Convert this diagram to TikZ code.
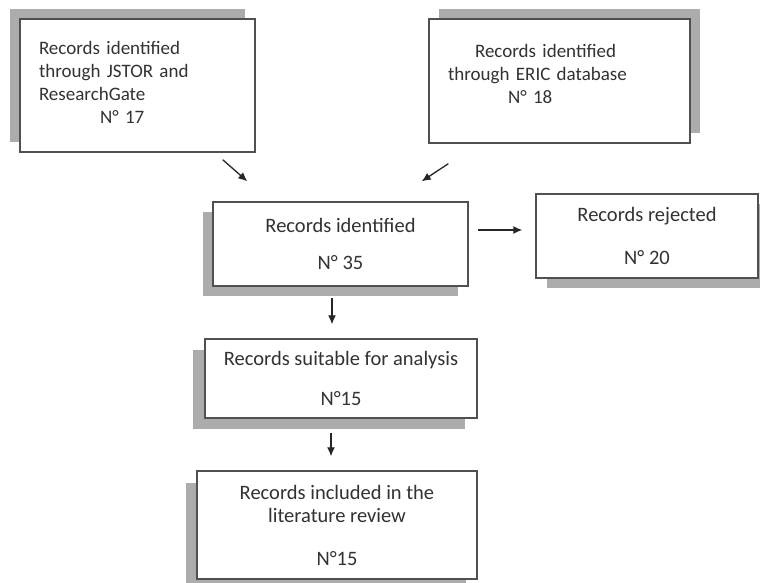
\documentclass[tikz,border=0pt]{standalone}
\usepackage{fontspec}
\setmainfont{Carlito}
\usepackage{tikz}
\usetikzlibrary{arrows.meta, shadows}
\usepackage{xcolor}
\definecolor{cBorder}{RGB}{80,80,80}
\definecolor{cShadow}{RGB}{172,172,172}
\definecolor{cText}{RGB}{50,50,50}
\tikzset{
  recbox/.style={rectangle, draw=cBorder, line width=1.4pt, fill=white,
                 text=cText, font=\fontsize{20.5}{23.5}\selectfont,
                 inner sep=0pt},
  srcbox/.style={recbox, font=\fontsize{19}{23.2}\selectfont, align=left},
  boxshadow/.style 2 args={drop shadow={shadow xshift=#1, shadow yshift=#2,
                 fill=cShadow, opacity=1}},
  arrow/.style={-{Latex[length=9pt,width=8pt]}, line width=1.3pt, color=black!85}
}

\begin{document}
\begin{tikzpicture}[x=1pt, y=-1pt]
  \useasboundingbox (0,0) rectangle (760,582);

  % sources
  \node[srcbox, boxshadow={-10pt}{10pt}, minimum width=235pt, minimum height=133pt,
        text width=197pt] (jstor) at (137.5,85.5)
      {Records identified\\through JSTOR and\\ResearchGate\\\hspace*{61pt}N° 17\par\vspace*{6pt}};
  \node[srcbox, boxshadow={10pt}{10pt}, minimum width=261pt, minimum height=124pt,
        text width=223pt] (eric) at (559.5,81)
      {\hspace*{27pt}Records identified\\through ERIC database\\\hspace*{60pt}N° 18\par\vspace*{14pt}};

  % screening
  \node[recbox, boxshadow={-10pt}{-10pt}, minimum width=255pt, minimum height=84pt,
        align=center] (ident) at (340.5,244)
      {Records identified\\[14pt]N° 35};
  \node[recbox, boxshadow={11pt}{-10pt}, minimum width=222pt, minimum height=84pt,
        align=center] (reject) at (647,236)
      {Records rejected\\[20pt]N° 20};
  \node[recbox, boxshadow={-12pt}{-11pt}, minimum width=272pt, minimum height=79pt,
        align=center] (suit) at (341,378.5)
      {Records suitable for analysis\\[17pt]N°15};
  \node[recbox, boxshadow={-11pt}{-12pt}, minimum width=280pt, minimum height=108pt,
        align=center] (incl) at (337,525)
      {Records included in the\\literature review\\[19pt]N°15};

  \draw[arrow] ([xshift=-33pt,yshift=-7pt]jstor.south east) -- ([xshift=35pt,yshift=20pt]ident.north west);
  \draw[arrow] ([xshift=20pt,yshift=-20pt]eric.south west) -- ([xshift=-47pt,yshift=20pt]ident.north east);
  \draw[arrow] ([xshift=9pt,yshift=14pt]ident.east) -- ([xshift=-13pt,yshift=6pt]reject.west);
  \draw[arrow] ([xshift=-8.5pt,yshift=-11pt]ident.south) -- ([xshift=-9pt,yshift=14pt]suit.north);
  \draw[arrow] ([xshift=-10pt,yshift=-14pt]suit.south) -- ([xshift=-6pt,yshift=14pt]incl.north);
\end{tikzpicture}
\end{document}
